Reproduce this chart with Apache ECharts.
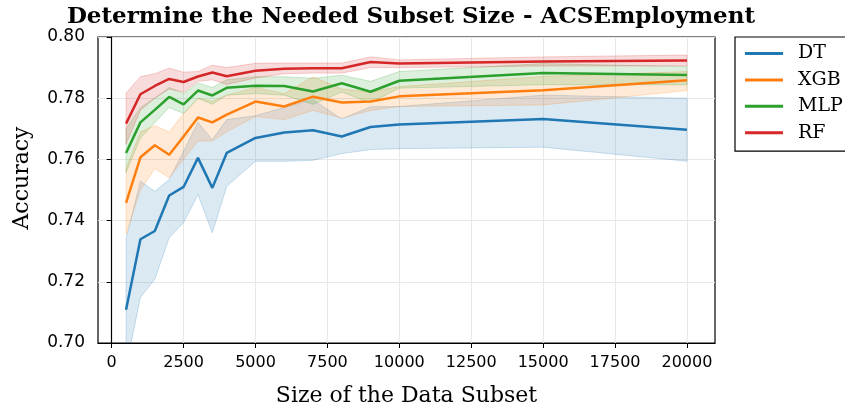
<!DOCTYPE html>
<html>
<head>
<meta charset="utf-8">
<script src="https://cdn.jsdelivr.net/npm/echarts@6/dist/echarts.min.js"></script>
<style>
  html, body { margin: 0; padding: 0; background: #fff; }
  #chart { width: 845px; height: 412px; }
</style>
</head>
<body>
<div id="chart"></div>
<script>
// 子集大小
const sizes = [500, 1000, 1500, 2000, 2500, 3000, 3500, 4000, 5000, 6000, 7000, 8000, 9000, 10000, 15000, 20000];
const models = ['DT', 'XGB', 'MLP', 'RF'];
const colors = ['#1f77b4', '#ff7f0e', '#2ca02c', '#d62728'];

// 平均准确率
const dtMean  = [0.7109, 0.7339, 0.7366, 0.7482, 0.7510, 0.7605, 0.7507, 0.7621, 0.7670, 0.7688, 0.7695, 0.7675, 0.7706, 0.7714, 0.7732, 0.7697];
const xgbMean = [0.7458, 0.7607, 0.7646, 0.7615, 0.7675, 0.7737, 0.7721, 0.7746, 0.7789, 0.7773, 0.7805, 0.7786, 0.7789, 0.7806, 0.7826, 0.7859];
const mlpMean = [0.7621, 0.7721, 0.7762, 0.7804, 0.7780, 0.7825, 0.7809, 0.7834, 0.7841, 0.7840, 0.7822, 0.7849, 0.7821, 0.7857, 0.7882, 0.7876];
const rfMean  = [0.7717, 0.7813, 0.7840, 0.7863, 0.7853, 0.7871, 0.7884, 0.7872, 0.7890, 0.7896, 0.7898, 0.7898, 0.7918, 0.7913, 0.7920, 0.7923];

// 置信区间 下界 / 上界
const dtLow  = [0.6920, 0.7149, 0.7208, 0.7344, 0.7393, 0.7485, 0.7360, 0.7512, 0.7594, 0.7594, 0.7597, 0.7619, 0.7632, 0.7635, 0.7640, 0.7594];
const dtHigh = [0.7340, 0.7529, 0.7496, 0.7534, 0.7627, 0.7721, 0.7664, 0.7730, 0.7743, 0.7770, 0.7795, 0.7732, 0.7772, 0.7773, 0.7810, 0.7800];
const xgbLow  = [0.7355, 0.7500, 0.7570, 0.7540, 0.7600, 0.7660, 0.7660, 0.7690, 0.7740, 0.7730, 0.7760, 0.7735, 0.7760, 0.7773, 0.7778, 0.7825];
const xgbHigh = [0.7570, 0.7690, 0.7710, 0.7690, 0.7750, 0.7800, 0.7790, 0.7810, 0.7835, 0.7815, 0.7870, 0.7830, 0.7820, 0.7838, 0.7871, 0.7887];
const mlpLow  = [0.7557, 0.7670, 0.7720, 0.7770, 0.7750, 0.7800, 0.7780, 0.7810, 0.7815, 0.7810, 0.7780, 0.7820, 0.7785, 0.7833, 0.7844, 0.7844];
const mlpHigh = [0.7700, 0.7770, 0.7800, 0.7835, 0.7815, 0.7850, 0.7835, 0.7860, 0.7870, 0.7870, 0.7865, 0.7875, 0.7855, 0.7887, 0.7913, 0.7903];
const rfLow  = [0.7650, 0.7760, 0.7800, 0.7830, 0.7820, 0.7855, 0.7860, 0.7845, 0.7866, 0.7880, 0.7882, 0.7882, 0.7900, 0.7900, 0.7905, 0.7906];
const rfHigh = [0.7817, 0.7870, 0.7880, 0.7898, 0.7885, 0.7887, 0.7908, 0.7900, 0.7914, 0.7915, 0.7915, 0.7915, 0.7935, 0.7925, 0.7935, 0.7941];

// 坐标轴刻度
const xTicks = [0, 2500, 5000, 7500, 10000, 12500, 15000, 17500, 20000];
const yTicks = [0.70, 0.72, 0.74, 0.76, 0.78, 0.80];

const means = [dtMean, xgbMean, mlpMean, rfMean];
const lows = [dtLow, xgbLow, mlpLow, rfLow];
const highs = [dtHigh, xgbHigh, mlpHigh, rfHigh];

const serif = '"DejaVu Serif", serif';
const sans = '"DejaVu Sans", sans-serif';

function hexAlpha(hex, a) {
  const r = parseInt(hex.slice(1, 3), 16);
  const g = parseInt(hex.slice(3, 5), 16);
  const b = parseInt(hex.slice(5, 7), 16);
  return `rgba(${r},${g},${b},${a})`;
}

const series = [];
models.forEach((name, i) => {
  // 置信带：用多边形画出 上界 -> 下界
  series.push({
    type: 'custom',
    name: name + '_band',
    data: sizes.map((x, k) => [x, lows[i][k], highs[i][k]]),
    encode: { x: 0, y: [1, 2] },
    clip: true,
    silent: true,
    z: 1,
    renderItem: function (params, api) {
      if (params.dataIndex !== 0) return null;
      const n = sizes.length;
      const pts = [];
      for (let k = 0; k < n; k++) pts.push(api.coord([api.value(0, k), api.value(2, k)]));
      for (let k = n - 1; k >= 0; k--) pts.push(api.coord([api.value(0, k), api.value(1, k)]));
      return {
        type: 'polygon',
        shape: { points: pts },
        style: { fill: hexAlpha(colors[i], 0.16), stroke: hexAlpha(colors[i], 0.22), lineWidth: 1 }
      };
    }
  });
});
models.forEach((name, i) => {
  series.push({
    type: 'line',
    name: name,
    data: sizes.map((x, k) => [x, means[i][k]]),
    symbol: 'none',
    lineStyle: { width: 2.5, color: colors[i] },
    itemStyle: { color: colors[i] },
    z: 3
  });
});

const chart = echarts.init(document.getElementById('chart'));
chart.setOption({
  animation: false,
  title: {
    text: 'Determine the Needed Subset Size - ACSEmployment',
    left: 406,
    textAlign: 'center',
    top: 1,
    textStyle: { fontFamily: serif, fontWeight: 'bold', fontSize: 23, color: '#000' }
  },
  grid: {
    left: 98, right: 130, top: 37, bottom: 68,
    show: true, borderColor: '#000', borderWidth: 1.2, backgroundColor: 'transparent'
  },
  legend: {
    data: models,
    orient: 'vertical',
    left: 735, top: 37,
    padding: [7, 20, 9, 10],
    itemGap: 7.4,
    itemWidth: 38,
    itemHeight: 3,
    icon: 'rect',
    borderColor: '#000', borderWidth: 1.2, borderRadius: 0,
    backgroundColor: '#fff',
    textStyle: { fontFamily: serif, fontSize: 19, color: '#000', padding: [0, 0, 0, 10] }
  },
  xAxis: {
    type: 'value',
    min: -475, max: 20975,
    name: 'Size of the Data Subset',
    nameLocation: 'middle',
    nameGap: 42,
    nameTextStyle: { fontFamily: serif, fontSize: 22, color: '#000' },
    axisLine: { show: true, onZero: false, lineStyle: { color: '#000', width: 1.2 } },
    axisTick: { show: true, length: 5, lineStyle: { color: '#000' }, customValues: xTicks },
    axisLabel: {
      fontFamily: sans, fontSize: 16, color: '#000', margin: 12,
      customValues: xTicks,
      formatter: v => String(v)
    },
    splitLine: { show: true, lineStyle: { color: '#e8e8e8', width: 1 } }
  },
  yAxis: {
    type: 'value',
    min: yTicks[0], max: yTicks[yTicks.length - 1],
    interval: 0.02,
    name: 'Accuracy',
    nameLocation: 'middle',
    nameGap: 65,
    nameTextStyle: { fontFamily: serif, fontSize: 22, color: '#000', padding: [0, 0, 0, 24] },
    axisLine: { show: true, lineStyle: { color: '#000', width: 1.2 } },
    axisTick: { show: true, length: 5, lineStyle: { color: '#000' } },
    axisLabel: {
      fontFamily: sans, fontSize: 17, color: '#000', margin: 13,
      formatter: v => v.toFixed(2)
    },
    splitLine: { show: true, lineStyle: { color: '#e8e8e8', width: 1 } }
  },
  series: series
});
</script>
</body>
</html>
